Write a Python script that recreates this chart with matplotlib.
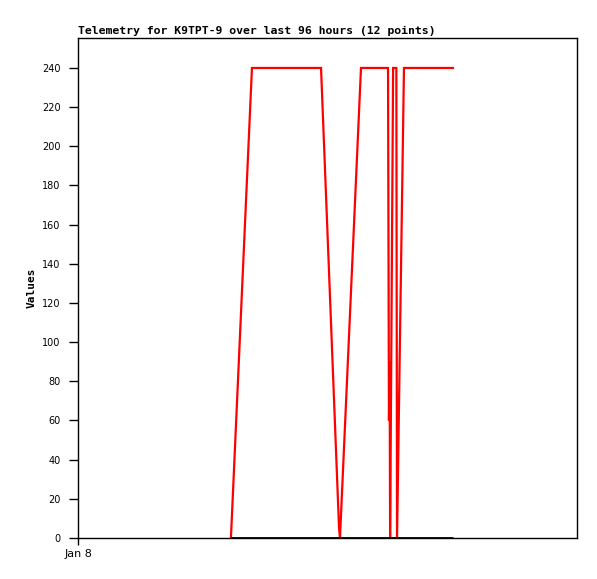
import matplotlib
matplotlib.use("Agg")
import matplotlib.pyplot as plt

# hours since Jan 8 00:00
hours = [66.2, 75.3, 105.2, 113.0, 113.4, 122.5, 134.2, 134.6, 134.9, 135.1, 136.4,
         137.8, 138.1, 141.1, 162.3]
values = [0, 240, 240, 5, 0, 240, 240, 60, 90, 0, 240, 240, 0, 240, 240]
zero_hours = [66.2, 162.3]
zero_values = [0, 0]
yticks = list(range(0, 241, 20))
xtick_pos = [0]
xtick_labels = ["Jan 8"]

fig = plt.figure(figsize=(5.97, 5.79), dpi=100)
ax = fig.add_axes([78/597, 41/579, 499/597, 500/579])
ax.plot(hours, values, color="#ff0000", lw=1.6, solid_joinstyle="miter")
ax.plot(zero_hours, zero_values, color="black", lw=2.0, solid_capstyle="butt")
ax.set_xlim(0, 216)
ax.set_ylim(0, 255.3)
ax.set_yticks(yticks)
ax.set_yticklabels([str(v) for v in yticks], fontsize=7, family="DejaVu Sans")
ax.set_xticks(xtick_pos)
ax.set_xticklabels(xtick_labels, fontsize=8, family="DejaVu Sans")
ax.tick_params(axis="y", length=6.5, width=1, color="black", direction="out", pad=6)
ax.tick_params(axis="x", length=5, width=1, color="black", direction="out", pad=3)
for s in ax.spines.values():
    s.set_linewidth(1)
    s.set_color("black")
ax.set_ylabel("Values", fontsize=8, fontweight="bold", family="DejaVu Sans Mono", labelpad=4)
ax.set_title("Telemetry for K9TPT-9 over last 96 hours (12 points)", loc="left",
             fontsize=8.25, fontweight="bold", family="DejaVu Sans Mono", pad=3)
fig.savefig("out.png", dpi=100)
